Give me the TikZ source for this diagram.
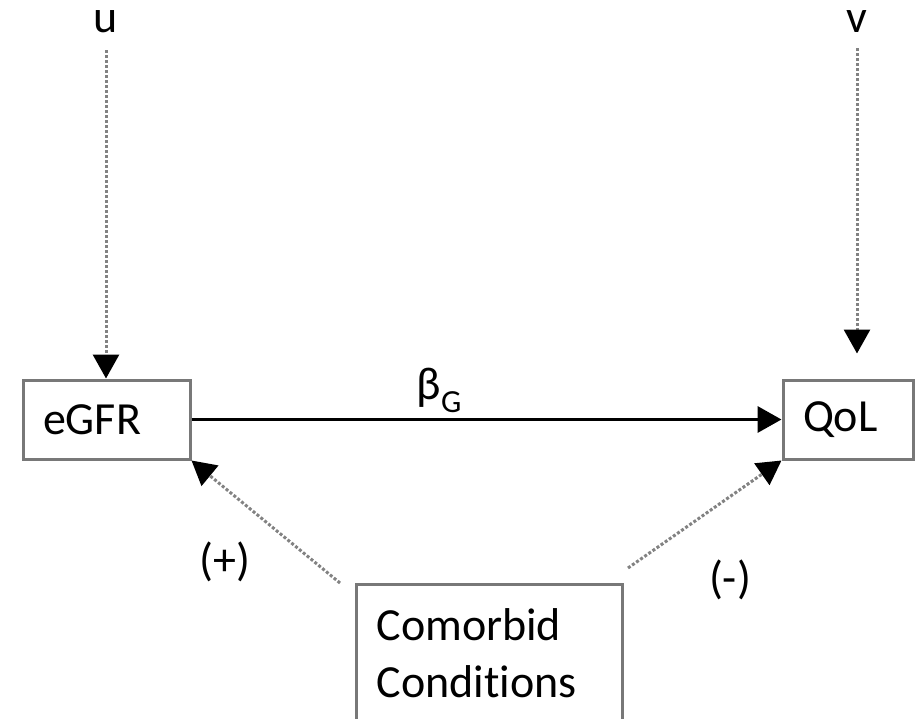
\documentclass[tikz,border=0pt]{standalone}
\usepackage{fontspec}
\setmainfont[Ligatures={NoCommon,NoRequired,NoContextual}]{Carlito}
\usetikzlibrary{arrows.meta}
\definecolor{boxgray}{RGB}{120,120,120}
\definecolor{linegray}{RGB}{130,130,130}

\begin{document}
\begin{tikzpicture}[x=1pt,y=-1pt,
    every node/.style={font=\fontsize{46}{57}\selectfont},
    box/.style={draw=boxgray,line width=3pt,inner xsep=20pt,align=left},
    effect/.style={draw=linegray,line width=3pt,dash pattern=on 3pt off 2pt,
      -{Triangle[length=24pt,width=26pt,color=black]}}]
  % frame of the picture
  \path[use as bounding box,clip] (0,0) rectangle (916,718);
  % variables
  \node[box,minimum height=79pt,text width=127pt] (egfr) at (106.5,419.5) {eGFR};
  \node[box,minimum height=79pt,text width=90pt] (qol) at (848,419.5) {QoL};
  \node[box,anchor=north west,text width=226pt,inner ysep=24pt,text depth=60pt]
    (comorb) at (355,583) {Comorbid\\Conditions};
  \node[inner sep=1pt] (u) at (106,22) {u};
  \node[inner sep=1pt] (v) at (857,22) {v};
  % errors
  \draw[effect,shorten <=16pt] (u) -- (u |- egfr.north);
  \draw[effect,shorten <=14pt,shorten >=25pt] (v) -- (v |- qol.north);
  % paths
  \draw[line width=3.5pt,-{Triangle[length=24pt,width=26pt]}] (egfr) --
    node[pos=0.42,above=2pt] (beta) {β\textsubscript{G}} (qol);
  \draw[effect] ([xshift=-15pt]comorb.north west) -- (egfr.south east);
  \draw[effect] ([xshift=4pt,yshift=15pt]comorb.north east) -- (qol.south west);
  \node (plus) at (225,562) {(+)};
  \node (minus) at (730,580) {(-)};
\end{tikzpicture}
\end{document}
